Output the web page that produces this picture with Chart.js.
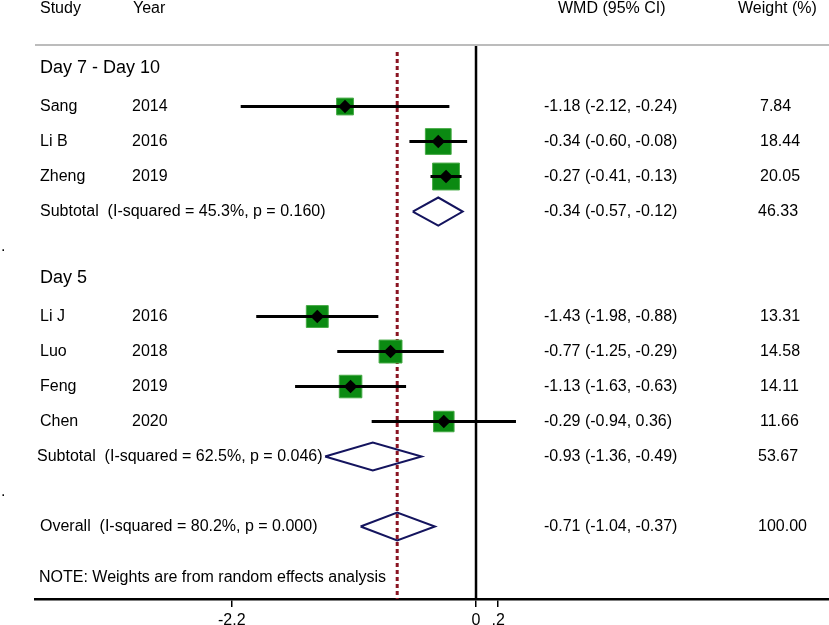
<!DOCTYPE html>
<html>
<head>
<meta charset="utf-8">
<script src="https://cdn.jsdelivr.net/npm/chart.js@4.4.1/dist/chart.umd.min.js"></script>
<style>
  html, body { margin: 0; padding: 0; background: #fff; }
  canvas { display: block; }
</style>
</head>
<body>
<canvas id="forest" width="829" height="625"></canvas>
<script>
// studies (rows counted from the first study, 35px apart)
var studies = ['Sang', 'Li B', 'Zheng', 'Li J', 'Luo', 'Feng', 'Chen'];
var years = ['2014', '2016', '2019', '2016', '2018', '2019', '2020'];
var studyRows = [0, 1, 2, 6, 7, 8, 9];
var wmd = [-1.18, -0.34, -0.27, -1.43, -0.77, -1.13, -0.29];
var ciLow = [-2.12, -0.60, -0.41, -1.98, -1.25, -1.63, -0.94];
var ciHigh = [-0.24, -0.08, -0.13, -0.88, -0.29, -0.63, 0.36];
var weights = [7.84, 18.44, 20.05, 13.31, 14.58, 14.11, 11.66];

// pooled estimates
var poolLabels = ['Subtotal  (I-squared = 45.3%, p = 0.160)', 'Subtotal  (I-squared = 62.5%, p = 0.046)', 'Overall  (I-squared = 80.2%, p = 0.000)'];
var poolRows = [3, 10, 12];
var poolEst = [-0.34, -0.93, -0.71];
var poolLow = [-0.57, -1.36, -1.04];
var poolHigh = [-0.12, -0.49, -0.37];
var poolWeights = [46.33, 53.67, 100.00];

var groupNames = ['Day 7 - Day 10', 'Day 5'];
var groupRows = [-1.1, 4.9];
var dotRows = [4, 11];
var noteRow = 13.47;
var headerRow = -2.8;
var ruleRow = -1.757;

var xTicks = [-2.2, 0, 0.2];
var overallEst = poolEst[2];

var X_MIN = -3.973, X_MAX = 3.18;
var Y_MIN = -3.043, Y_MAX = 14.07;

var FONT = '"Liberation Sans", Arial, sans-serif';
var datasets = [];

// green weight boxes
datasets.push({
  data: studies.map(function(s, i){ return {x: wmd[i], y: studyRows[i]}; }),
  pointStyle: 'rect',
  pointRadius: function(ctx){ return 6 * Math.sqrt(weights[ctx.dataIndex]) / Math.SQRT2; },
  backgroundColor: '#0b8a12',
  borderColor: '#45aa45',
  borderWidth: 1,
  showLine: false,
  order: 4
});

// confidence intervals
for (var i = 0; i < studies.length; i++) {
  datasets.push({
    data: [{x: ciLow[i], y: studyRows[i]}, {x: ciHigh[i], y: studyRows[i]}],
    showLine: true,
    borderColor: '#000',
    borderWidth: 3,
    pointRadius: 0,
    order: 3
  });
}

// point estimate markers
datasets.push({
  data: studies.map(function(s, i){ return {x: wmd[i], y: studyRows[i]}; }),
  pointStyle: 'rectRot',
  pointRadius: 6.8,
  backgroundColor: '#000',
  borderColor: '#000',
  borderWidth: 0,
  showLine: false,
  order: 1
});

// pooled diamonds
var DH = 0.4;
for (var j = 0; j < poolEst.length; j++) {
  var r = poolRows[j];
  datasets.push({
    data: [
      {x: poolLow[j], y: r}, {x: poolEst[j], y: r - DH},
      {x: poolHigh[j], y: r}, {x: poolEst[j], y: r + DH},
      {x: poolLow[j], y: r}
    ],
    showLine: true,
    borderColor: '#14145e',
    borderWidth: 2,
    pointRadius: 0,
    tension: 0,
    order: 1
  });
}

// no-effect line
datasets.push({
  data: [{x: 0, y: ruleRow}, {x: 0, y: Y_MAX}],
  showLine: true, borderColor: '#000', borderWidth: 2.5, pointRadius: 0, order: 5
});

// overall effect line
datasets.push({
  data: [{x: overallEst, y: ruleRow + 0.2}, {x: overallEst, y: Y_MAX}],
  showLine: true, borderColor: '#8a1422', borderWidth: 3, borderDash: [4, 3],
  pointRadius: 0, order: 6
});

var tablePlugin = {
  id: 'table',
  afterDraw: function(chart) {
    var c = chart.ctx, ys = chart.scales.y, area = chart.chartArea;
    var py = function(v){ return ys.getPixelForValue(v); };
    c.save();
    // header rule
    c.strokeStyle = '#bcbcbc';
    c.lineWidth = 2;
    c.beginPath();
    c.moveTo(area.left, py(ruleRow));
    c.lineTo(area.right, py(ruleRow));
    c.stroke();

    c.fillStyle = '#000';
    c.textBaseline = 'middle';
    c.textAlign = 'left';
    c.font = '16px ' + FONT;
    c.fillText('Study', 40, py(headerRow));
    c.fillText('Year', 133, py(headerRow));
    c.fillText('WMD (95% CI)', 558, py(headerRow));
    c.fillText('Weight (%)', 738, py(headerRow));

    for (var i = 0; i < studies.length; i++) {
      var y = py(studyRows[i]);
      c.fillText(studies[i], 40, y);
      c.fillText(years[i], 132, y);
      c.fillText(wmd[i].toFixed(2) + ' (' + ciLow[i].toFixed(2) + ', ' + ciHigh[i].toFixed(2) + ')', 544, y);
      c.fillText(weights[i].toFixed(2), 760, y);
    }
    for (var j = 0; j < poolLabels.length; j++) {
      var yy = py(poolRows[j]);
      c.fillText(poolLabels[j], j == 1 ? 37 : 40, yy);
      c.fillText(poolEst[j].toFixed(2) + ' (' + poolLow[j].toFixed(2) + ', ' + poolHigh[j].toFixed(2) + ')', 544, yy);
      c.fillText(poolWeights[j].toFixed(2), 758, yy);
    }
    c.fillText('NOTE: Weights are from random effects analysis', 39, py(noteRow));
    dotRows.forEach(function(r){ c.fillText('.', 1, py(r)); });

    c.font = '18px ' + FONT;
    for (var k = 0; k < groupNames.length; k++) {
      c.fillText(groupNames[k], 40, py(groupRows[k]));
    }
    c.restore();
  }
};

new Chart(document.getElementById('forest'), {
  type: 'scatter',
  data: { datasets: datasets },
  options: {
    responsive: false,
    animation: false,
    layout: { autoPadding: false, padding: { left: 35, right: 0, top: 0, bottom: 0 } },
    plugins: { legend: { display: false }, tooltip: { enabled: false } },
    scales: {
      x: {
        type: 'linear',
        min: X_MIN,
        max: X_MAX,
        afterBuildTicks: function(s){ s.ticks = xTicks.map(function(v){ return {value: v}; }); },
        afterFit: function(s){ s.height = 26; },
        grid: { drawOnChartArea: false, drawTicks: true, tickLength: 8, color: '#000', lineWidth: 1.5 },
        border: { display: true, color: '#000', width: 2.5 },
        ticks: {
          color: '#000',
          padding: 4,
          maxRotation: 0,
          autoSkip: false,
          font: { family: FONT, size: 16 },
          callback: function(v){ return v === 0 ? '0' : String(v).replace(/^0\./, '.'); }
        }
      },
      y: {
        type: 'linear',
        display: false,
        reverse: true,
        min: Y_MIN,
        max: Y_MAX
      }
    }
  },
  plugins: [tablePlugin]
});
</script>
</body>
</html>
